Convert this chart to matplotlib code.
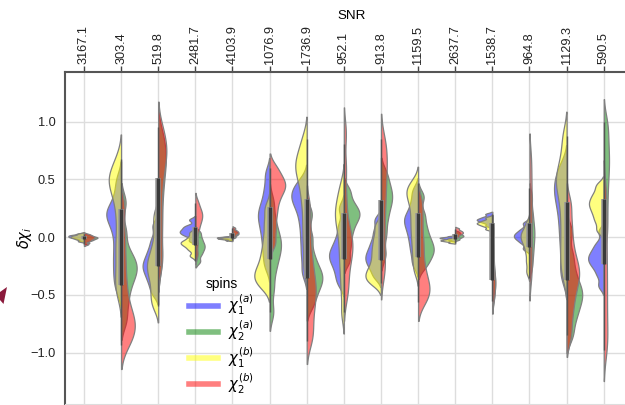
import numpy as np
import matplotlib
matplotlib.use("Agg")
import matplotlib.pyplot as plt
from matplotlib.lines import Line2D
from matplotlib.patches import Polygon
from matplotlib.colors import to_rgba

plt.rcParams['font.family'] = ['Liberation Sans', 'DejaVu Sans']
plt.rcParams['mathtext.fontset'] = 'dejavusans'

snr_labels = ["3167.1", "303.4", "519.8", "2481.7", "4103.9", "1076.9", "1736.9",
              "952.1", "913.8", "1159.5", "2637.7", "1538.7", "964.8", "1129.3", "590.5"]

# chi_1^(a)  (blue, left half)
chi1_a = [
    [-0.03, -0.015, -0.005, 0.0, 0.005, 0.01, 0.015, 0.02, 0.03],
    [0.5, 0.38, 0.28, 0.23, 0.2, 0.16, 0.1, 0.02, -0.08, -0.17, -0.26, -0.35, -0.45],
    [0.1, -0.02, -0.1, -0.16, -0.21, -0.25, -0.29, -0.34, -0.4, -0.48],
    [0.15, 0.1, 0.08, 0.06, 0.045, 0.03, 0.01, -0.03],
    [-0.02, -0.012, -0.008, -0.005, -0.002, 0.001, 0.006],
    [0.55, 0.42, 0.32, 0.25, 0.2, 0.15, 0.09, 0.02, -0.06, -0.15, -0.25],
    [0.48, 0.42, 0.37, 0.33, 0.28, 0.2, 0.1, -0.02, -0.15, -0.3],
    [0.25, 0.1, 0.0, -0.07, -0.12, -0.16, -0.2, -0.25, -0.32, -0.4],
    [0.15, 0.05, -0.03, -0.09, -0.14, -0.18, -0.22, -0.27, -0.34],
    [0.4, 0.3, 0.22, 0.17, 0.13, 0.08, 0.02, -0.05, -0.13, -0.23],
    [-0.03, -0.018, -0.012, -0.008, -0.004, 0.0, 0.008],
    [0.1, 0.125, 0.14, 0.15, 0.16, 0.175, 0.2],
    [0.12, 0.07, 0.04, 0.02, 0.0, -0.02, -0.05, -0.1],
    [0.62, 0.53, 0.46, 0.4, 0.33, 0.25, 0.15, 0.04, -0.08, -0.22, -0.35],
    [0.05, -0.05, -0.1, -0.14, -0.17, -0.2, -0.23, -0.27, -0.33, -0.42],
]
# chi_2^(a)  (green, right half)
chi2_a = [
    [-0.05, -0.03, -0.02, -0.012, -0.005, 0.0, 0.008, 0.02],
    [0.3, 0.05, -0.12, -0.2, -0.25, -0.3, -0.36, -0.45, -0.57, -0.72],
    [0.9, 0.8, 0.72, 0.65, 0.57, 0.47, 0.35, 0.2, 0.05, -0.12, -0.25],
    [0.04, -0.01, -0.05, -0.08, -0.11, -0.15, -0.21],
    [0.0, 0.015, 0.025, 0.032, 0.04, 0.05, 0.065],
    [0.3, 0.15, 0.05, -0.02, -0.07, -0.13, -0.2, -0.3, -0.45, -0.65],
    [0.2, 0.0, -0.15, -0.25, -0.31, -0.36, -0.41, -0.48, -0.58],
    [0.4, 0.3, 0.24, 0.2, 0.16, 0.1, 0.02, -0.08, -0.2],
    [0.55, 0.45, 0.38, 0.32, 0.25, 0.15, 0.02, -0.15],
    [0.35, 0.2, 0.1, 0.02, -0.04, -0.09, -0.13, -0.18, -0.25],
    [-0.02, -0.005, 0.005, 0.012, 0.02, 0.03, 0.045],
    [0.05, -0.1, -0.2, -0.28, -0.34, -0.38, -0.42, -0.47, -0.53],
    [0.35, 0.22, 0.13, 0.06, 0.0, -0.07, -0.15, -0.25],
    [0.05, -0.15, -0.28, -0.38, -0.45, -0.5, -0.56, -0.63, -0.72, -0.85],
    [1.0, 0.88, 0.76, 0.66, 0.56, 0.44, 0.3, 0.15, 0.0],
]
# chi_1^(b)  (yellow, left half)
chi1_b = [
    [-0.035, -0.02, -0.01, -0.003, 0.003, 0.01, 0.017, 0.03],
    [0.68, 0.58, 0.53, 0.49, 0.45, 0.38, 0.28, 0.15, 0.0, -0.12, -0.25, -0.38, -0.48],
    [0.2, 0.08, -0.05, -0.14, -0.2, -0.25, -0.3, -0.36, -0.44, -0.52, -0.6],
    [0.04, 0.0, -0.03, -0.045, -0.06, -0.08, -0.11, -0.16],
    [-0.028, -0.02, -0.015, -0.012, -0.009, -0.005, 0.0],
    [0.25, 0.12, 0.0, -0.1, -0.18, -0.25, -0.3, -0.34, -0.38, -0.43],
    [0.85, 0.74, 0.67, 0.62, 0.57, 0.5, 0.4, 0.28, 0.12, -0.05, -0.25],
    [0.45, 0.35, 0.28, 0.22, 0.17, 0.11, 0.03, -0.07, -0.18, -0.3, -0.45, -0.65],
    [0.1, 0.0, -0.08, -0.15, -0.22, -0.28, -0.32, -0.36, -0.4],
    [0.47, 0.42, 0.38, 0.33, 0.26, 0.18, 0.1, 0.02, -0.07, -0.17, -0.28],
    [-0.048, -0.038, -0.032, -0.028, -0.024, -0.018, -0.01],
    [0.07, 0.095, 0.11, 0.12, 0.13, 0.145, 0.17],
    [0.12, 0.06, 0.03, 0.0, -0.03, -0.07, -0.13, -0.21, -0.3],
    [0.88, 0.72, 0.6, 0.53, 0.47, 0.4, 0.3, 0.18, 0.05, -0.08, -0.2, -0.33],
    [0.45, 0.38, 0.33, 0.29, 0.25, 0.2, 0.14, 0.06],
]
# chi_2^(b)  (red, right half)
chi2_b = [
    [-0.06, -0.035, -0.022, -0.012, -0.004, 0.004, 0.012, 0.025],
    [0.25, 0.0, -0.2, -0.38, -0.52, -0.63, -0.7, -0.75, -0.8, -0.86, -0.93],
    [0.95, 0.85, 0.78, 0.72, 0.65, 0.55, 0.42, 0.25, 0.08, -0.1, -0.25],
    [0.3, 0.24, 0.21, 0.18, 0.15, 0.11, 0.05, -0.05, -0.15],
    [0.01, 0.025, 0.035, 0.042, 0.05, 0.06, 0.08],
    [0.6, 0.52, 0.47, 0.43, 0.38, 0.3, 0.2, 0.08, -0.05],
    [0.25, 0.05, -0.12, -0.25, -0.35, -0.43, -0.5, -0.58, -0.68, -0.8, -0.9],
    [0.9, 0.6, 0.35, 0.15, 0.05, -0.02, -0.07, -0.12, -0.18, -0.27, -0.4, -0.5],
    [0.85, 0.75, 0.66, 0.57, 0.47, 0.36, 0.24, 0.1, -0.05, -0.2, -0.32],
    [0.3, 0.15, 0.0, -0.12, -0.24, -0.33, -0.4, -0.45, -0.5, -0.56],
    [0.005, 0.022, 0.032, 0.04, 0.048, 0.058, 0.075],
    [0.08, -0.05, -0.17, -0.26, -0.32, -0.37, -0.4, -0.44, -0.49, -0.55],
    [0.7, 0.56, 0.43, 0.31, 0.2, 0.09, -0.02, -0.13, -0.25, -0.35],
    [0.28, 0.1, -0.05, -0.17, -0.25, -0.31, -0.37, -0.45, -0.55, -0.68, -0.85],
    [0.4, 0.22, 0.05, -0.12, -0.28, -0.43, -0.58, -0.73, -0.87, -0.98],
]

series_names = [r"$\chi_1^{(a)}$", r"$\chi_2^{(a)}$", r"$\chi_1^{(b)}$", r"$\chi_2^{(b)}$"]
series_colors = ["blue", "green", "yellow", "red"]
series_sides = [-1, 1, -1, 1]
series_data = [chi1_a, chi2_a, chi1_b, chi2_b]


def kde(samples, bw_adjust=0.45, cut=2.0, n=300):
    s = np.asarray(samples, dtype=float)
    h = bw_adjust * s.std(ddof=1) * len(s) ** (-1 / 5)
    y = np.linspace(s.min() - cut * h, s.max() + cut * h, n)
    d = np.exp(-0.5 * ((y[:, None] - s[None, :]) / h) ** 2).sum(1) / (len(s) * h * np.sqrt(2 * np.pi))
    return y, d


fig = plt.figure(figsize=(6.25, 4.05), dpi=100)
ax = fig.add_axes([65 / 625, 1.5 / 405, (639 - 65) / 625, (403.5 - 72) / 405])

half_width = 0.42
for i in range(len(snr_labels)):
    curves = [kde(sd[i]) for sd in series_data]
    scale = half_width / max(d.max() for _, d in curves)
    for (y, d), col, side in zip(curves, series_colors, series_sides):
        ax.fill_betweenx(y, i, i + side * d * scale, facecolor=to_rgba(col, 0.5),
                         edgecolor="#808080", linewidth=0.9, zorder=2)
    allv = np.concatenate([np.asarray(sd[i]) for sd in series_data])
    q1, q3 = np.percentile(allv, [25, 75])
    iqr = q3 - q1
    lo = max(allv.min(), q1 - 1.5 * iqr)
    hi = min(allv.max(), q3 + 1.5 * iqr)
    ax.plot([i, i], [lo, hi], color="#555555", lw=1.0, zorder=3, solid_capstyle="butt")
    ax.plot([i, i], [q1, q3], color="#999999", lw=4.0, zorder=3, solid_capstyle="butt")
    ax.plot([i, i], [q1, q3], color="#3a3a3a", lw=2.4, zorder=4, solid_capstyle="butt")

ax.set_xlim(-0.51, 14.95)
ax.set_ylim(-1.44, 1.43)
ax.set_xticks(range(len(snr_labels)))
ax.set_xticklabels(snr_labels, rotation=90)
ax.set_yticks([-1.0, -0.5, 0.0, 0.5, 1.0])
ax.xaxis.tick_top()
ax.xaxis.set_label_position("top")
ax.set_xlabel("SNR", fontsize=9.6, labelpad=4)
ax.set_ylabel(r"$\delta\chi_i$", fontsize=10.5)
ax.yaxis.set_label_coords(-0.054, 0.5)
ax.tick_params(axis="x", top=True, bottom=False, length=4.5, width=1, color="#444444",
               labelsize=9.2, pad=1.5, labelcolor="#222222")
ax.tick_params(axis="y", length=0, labelsize=9.2, pad=7, labelcolor="#222222")
ax.grid(True, color="#dddddd", lw=1)
ax.set_axisbelow(True)
for sp in ["left", "top"]:
    ax.spines[sp].set_color("#555555")
    ax.spines[sp].set_linewidth(1.5)
ax.spines["right"].set_visible(False)
ax.spines["bottom"].set_color("#dddddd")

handles = [Line2D([], [], color=c, alpha=0.5, lw=4) for c in series_colors]
leg = ax.legend(handles, series_names, title="spins", loc="upper left",
                bbox_to_anchor=(176 / 625, 1 - 264 / 405), bbox_transform=fig.transFigure,
                frameon=False, fontsize=10.5, title_fontsize=10, handlelength=2.0,
                labelspacing=0.1, handletextpad=0.7)

fig.patches.append(Polygon([(7 / 625, 1 - 287 / 405), (0, 1 - 292 / 405), (0, 1 - 300 / 405),
                            (3.5 / 625, 1 - 304 / 405)], closed=True,
                           transform=fig.transFigure, facecolor="#8b1a3c", edgecolor="none"))

fig.savefig("out.png", dpi=100)
